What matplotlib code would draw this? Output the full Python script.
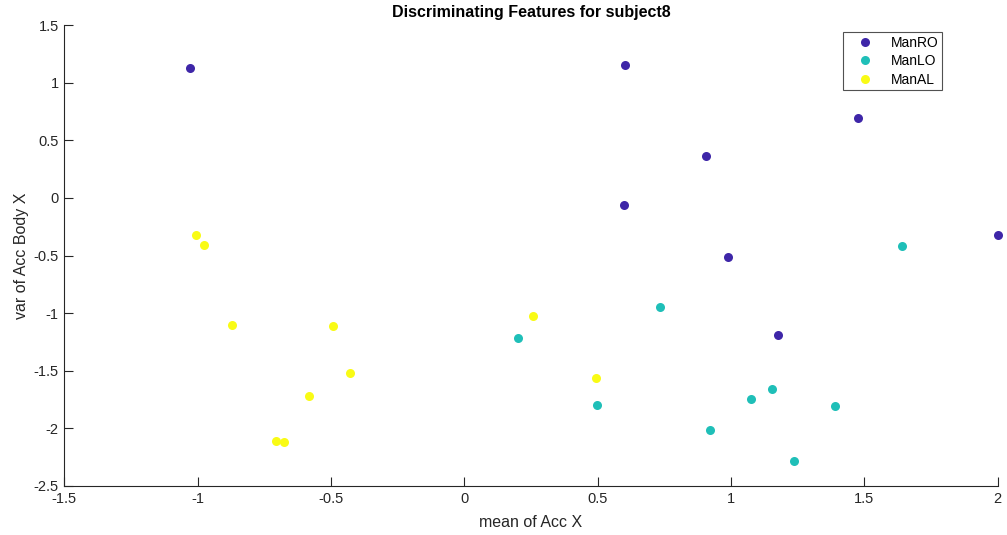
import matplotlib
matplotlib.use("Agg")
import matplotlib.pyplot as plt

# Data
manro_x = [-1.029, 0.602, 1.475, 0.906, 0.597, 0.990, 2.000, 1.177]
manro_y = [1.127, 1.153, 0.693, 0.361, -0.065, -0.510, -0.319, -1.190]

manlo_x = [1.642, 0.735, 0.201, 0.497, 0.920, 1.075, 1.152, 1.390, 1.236]
manlo_y = [-0.415, -0.944, -1.219, -1.800, -2.011, -1.748, -1.661, -1.803, -2.283]

manal_x = [-1.005, -0.976, -0.872, -0.492, -0.428, -0.583, -0.705, -0.676, 0.259, 0.493]
manal_y = [-0.319, -0.406, -1.106, -1.109, -1.520, -1.719, -2.110, -2.121, -1.025, -1.566]

labels = ["ManRO", "ManLO", "ManAL"]
colors = ["#3E26A8", "#1FBFB8", "#F9FB15"]
xticks = [-1.5, -1, -0.5, 0, 0.5, 1, 1.5, 2]
yticks = [-2.5, -2, -1.5, -1, -0.5, 0, 0.5, 1, 1.5]

plt.rcParams['font.family'] = ['Liberation Sans', 'DejaVu Sans']

fig = plt.figure(figsize=(10.07, 5.35), dpi=100)
ax = fig.add_axes([0.0639, 0.0916, 0.9269, 0.8616])

for xs, ys, lab, c in zip([manro_x, manlo_x, manal_x], [manro_y, manlo_y, manal_y], labels, colors):
    ax.plot(xs, ys, linestyle='none', marker='o', markersize=6.5, color=c,
            markeredgewidth=0, label=lab, clip_on=False)

ax.set_xlim(-1.5, 2)
ax.set_ylim(-2.5, 1.5)
ax.set_xticks(xticks)
ax.set_yticks(yticks)
ax.set_xticklabels([f"{t:g}" for t in xticks])
ax.set_yticklabels([f"{t:g}" for t in yticks])

for s in ['top', 'right']:
    ax.spines[s].set_visible(False)
for s in ['left', 'bottom']:
    ax.spines[s].set_color('#262626')
    ax.spines[s].set_linewidth(0.8)
ax.tick_params(direction='in', length=6.5, width=0.8, colors='#262626', labelsize=10.5, pad=4)

ax.set_xlabel("mean of Acc X", fontsize=11.5, color='#262626', labelpad=7)
ax.set_ylabel("var of Acc Body X", fontsize=11.5, color='#262626', labelpad=3)
ax.set_title("Discriminating Features for subject8", fontsize=11.5, fontweight='bold', pad=6)

leg = ax.legend(loc='upper left', bbox_to_anchor=(0.8346, 0.984), borderaxespad=0,
                fancybox=False, edgecolor='#262626', fontsize=10, handlelength=2.6,
                handletextpad=0.6, labelspacing=0.32, borderpad=0.25)
leg.get_frame().set_linewidth(0.8)

fig.savefig("out.png", dpi=100)
